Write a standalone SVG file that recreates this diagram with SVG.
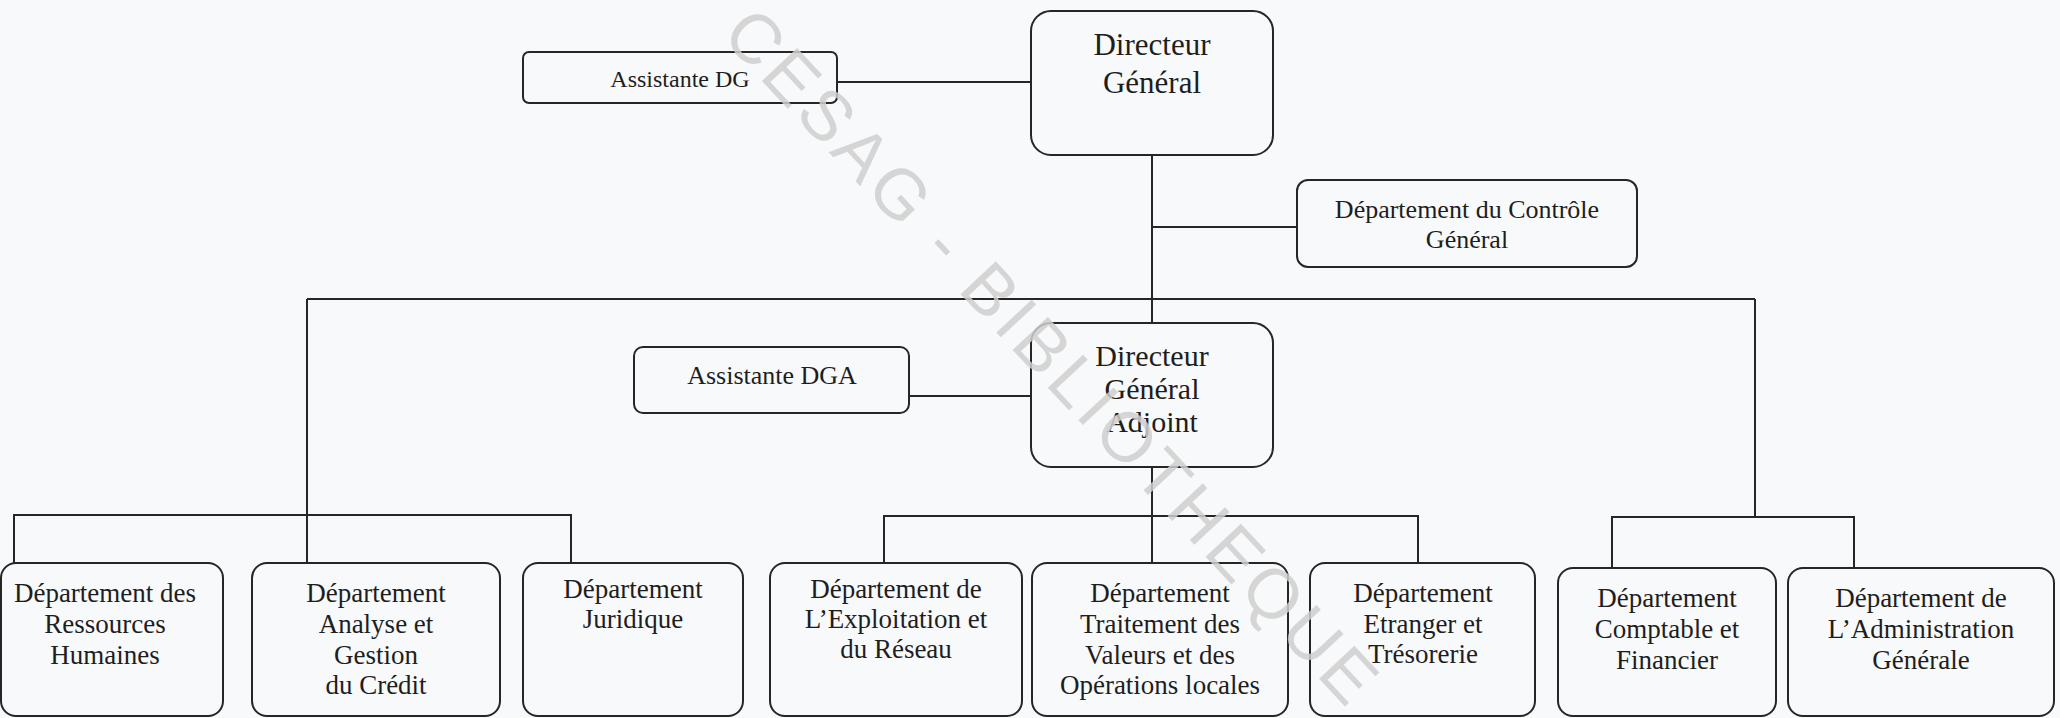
<svg xmlns="http://www.w3.org/2000/svg" width="2060" height="718" viewBox="0 0 2060 718">
  <style>
    .box { fill: none; stroke: #262626; stroke-width: 2; }
    .wire { fill: none; stroke: #262626; stroke-width: 2; }
    .lbl { font-family: "Liberation Serif", "Times New Roman", serif; fill: #1e1e1e; text-anchor: middle; }
    .wm { font-family: "Liberation Sans", Arial, sans-serif; font-size: 70px; letter-spacing: 5px; fill: #cfcfcf; fill-opacity: 0.85; }
  </style>
  <rect width="2060" height="718" fill="#f8f9fa"/>

  <!-- connectors -->
  <g id="connectors" class="wire">
    <path d="M837,82 H1030"/>
    <path d="M1152,155 V323"/>
    <path d="M1152,227 H1297"/>
    <path d="M307,299 H1755"/>
    <path d="M909,396 H1030"/>
    <!-- left branch -->
    <path d="M307,299 V563"/>
    <path d="M14,563 V515 H571 V563"/>
    <!-- centre branch -->
    <path d="M1152,467 V563"/>
    <path d="M884,563 V516 H1418 V563"/>
    <!-- right branch -->
    <path d="M1755,299 V517"/>
    <path d="M1612,568 V517 H1854 V568"/>
  </g>

  <!-- top management -->
  <g id="assistante-dg">
    <rect class="box" x="523" y="52" width="314" height="51" rx="6"/>
    <text class="lbl" x="680" y="87" font-size="24">Assistante DG</text>
  </g>
  <g id="directeur-general">
    <rect class="box" x="1031" y="11" width="242" height="144" rx="20"/>
    <text class="lbl" x="1152" y="55" font-size="31">Directeur</text>
    <text class="lbl" x="1152" y="93" font-size="31">Général</text>
  </g>
  <g id="controle-general">
    <rect class="box" x="1297" y="180" width="340" height="87" rx="11"/>
    <text class="lbl" x="1467" y="218" font-size="26">Département du Contrôle</text>
    <text class="lbl" x="1467" y="248" font-size="26">Général</text>
  </g>
  <g id="assistante-dga">
    <rect class="box" x="634" y="347" width="275" height="66" rx="9"/>
    <text class="lbl" x="772" y="384" font-size="26">Assistante DGA</text>
  </g>
  <g id="directeur-general-adjoint">
    <rect class="box" x="1031" y="323" width="242" height="144" rx="20"/>
    <text class="lbl" x="1152" y="366" font-size="30">Directeur</text>
    <text class="lbl" x="1152" y="399" font-size="30">Général</text>
    <text class="lbl" x="1152" y="432" font-size="30">Adjoint</text>
  </g>

  <!-- departments -->
  <g id="dep-rh">
    <rect class="box" x="1" y="563" width="222" height="153" rx="15"/>
    <text class="lbl" x="105" y="602" font-size="27">Département des</text>
    <text class="lbl" x="105" y="633" font-size="27">Ressources</text>
    <text class="lbl" x="105" y="664" font-size="27">Humaines</text>
  </g>
  <g id="dep-credit">
    <rect class="box" x="252" y="563" width="248" height="153" rx="15"/>
    <text class="lbl" x="376" y="602" font-size="27">Département</text>
    <text class="lbl" x="376" y="633" font-size="27">Analyse et</text>
    <text class="lbl" x="376" y="664" font-size="27">Gestion</text>
    <text class="lbl" x="376" y="694" font-size="27">du Crédit</text>
  </g>
  <g id="dep-juridique">
    <rect class="box" x="523" y="563" width="220" height="153" rx="15"/>
    <text class="lbl" x="633" y="598" font-size="27">Département</text>
    <text class="lbl" x="633" y="628" font-size="27">Juridique</text>
  </g>
  <g id="dep-exploitation">
    <rect class="box" x="770" y="563" width="252" height="153" rx="15"/>
    <text class="lbl" x="896" y="598" font-size="27">Département de</text>
    <text class="lbl" x="896" y="628" font-size="27">L’Exploitation et</text>
    <text class="lbl" x="896" y="658" font-size="27">du Réseau</text>
  </g>
  <g id="dep-valeurs">
    <rect class="box" x="1032" y="563" width="256" height="153" rx="15"/>
    <text class="lbl" x="1160" y="602" font-size="27">Département</text>
    <text class="lbl" x="1160" y="633" font-size="27">Traitement des</text>
    <text class="lbl" x="1160" y="664" font-size="27">Valeurs et des</text>
    <text class="lbl" x="1160" y="694" font-size="27">Opérations locales</text>
  </g>
  <g id="dep-etranger">
    <rect class="box" x="1310" y="563" width="225" height="153" rx="15"/>
    <text class="lbl" x="1423" y="602" font-size="27">Département</text>
    <text class="lbl" x="1423" y="633" font-size="27">Etranger et</text>
    <text class="lbl" x="1423" y="663" font-size="27">Trésorerie</text>
  </g>
  <g id="dep-comptable">
    <rect class="box" x="1558" y="568" width="218" height="148" rx="15"/>
    <text class="lbl" x="1667" y="607" font-size="27">Département</text>
    <text class="lbl" x="1667" y="638" font-size="27">Comptable et</text>
    <text class="lbl" x="1667" y="669" font-size="27">Financier</text>
  </g>
  <g id="dep-administration">
    <rect class="box" x="1788" y="568" width="266" height="148" rx="15"/>
    <text class="lbl" x="1921" y="607" font-size="27">Département de</text>
    <text class="lbl" x="1921" y="638" font-size="27">L’Administration</text>
    <text class="lbl" x="1921" y="669" font-size="27">Générale</text>
  </g>

  <!-- diagonal stamp across the sheet -->
  <text class="wm" x="720" y="36" transform="rotate(47 720 36)">CESAG - BIBLIOTHEQUE</text>
</svg>
